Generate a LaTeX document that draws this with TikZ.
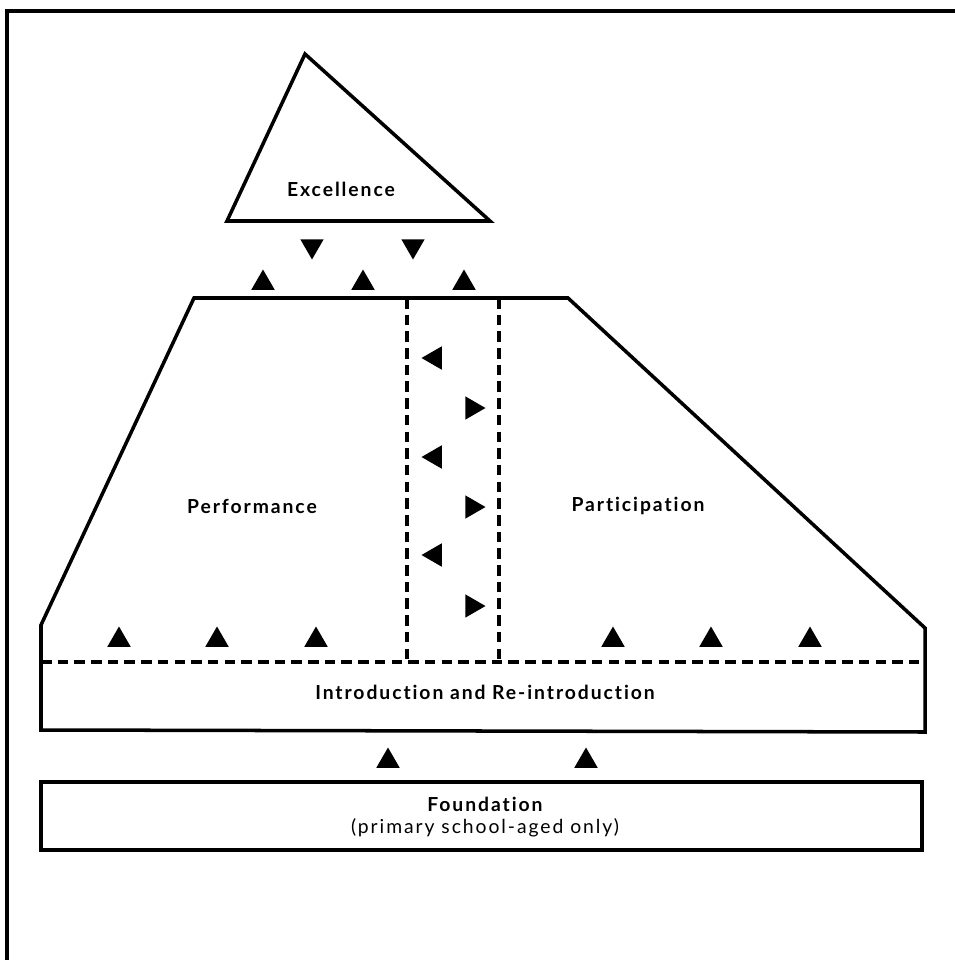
\documentclass[tikz,border=0pt]{standalone}
\usepackage{fontspec}
\setmainfont{Lato}
\newfontfamily\spacedfont[LetterSpace=10, Ligatures={NoCommon}]{Lato}
\usetikzlibrary{shapes.geometric}

\tikzset{
  outline/.style={line width=2pt, line join=miter},
  divider/.style={line width=2pt, dash pattern=on 6pt off 3.5pt},
  tri/.style={regular polygon, regular polygon sides=3, fill=black, draw=none, inner sep=0pt, minimum size=0.54cm},
  uptri/.style={tri},
  downtri/.style={tri, shape border rotate=180},
  lefttri/.style={tri, shape border rotate=90},
  righttri/.style={tri, shape border rotate=270},
  boxtext/.style={font=\spacedfont\bfseries\fontsize{11}{13}\selectfont, inner sep=0pt},
}

\begin{document}
\begin{tikzpicture}[x=0.02cm, y=-0.02cm]
  \useasboundingbox (0,0) rectangle (955,960);
  % frame
  \draw[outline] (7,960) -- (7,11) -- (955,11);

  % excellence
  \draw[outline] (305,54) -- (227,221) -- (490,221) -- cycle;
  \node[boxtext] (exc) at (341,189) {Excellence};
  \foreach \x [count=\i] in {312,413}
    \node[downtri] (down\i) at (\x,246) {};
  \foreach \x [count=\i] in {263,363,464}
    \node[uptri] (top\i) at (\x,283) {};

  % performance / participation block
  \draw[outline] (41,730) -- (41,625) -- (194,298) -- (568,298) -- (925,628) -- (925,732) -- cycle;
  \draw[divider] (407,298) -- (407,662);
  \draw[divider] (499,298) -- (499,662);
  \draw[divider] (41,662) -- (925,662);
  \foreach \y [count=\i] in {358,457,555}
    \node[lefttri] (left\i) at (435,\y) {};
  \foreach \y [count=\i] in {408,507,606}
    \node[righttri] (right\i) at (472,\y) {};
  \foreach \x [count=\i] in {119,217,316,613,711,810}
    \node[uptri] (base\i) at (\x,640) {};
  \node[boxtext] (perf) at (252,506) {Performance};
  \node[boxtext] (part) at (638,506) {Participation};
  \node[boxtext] (intro) at (485,692) {Introduction and Re-introduction};

  % foundation
  \foreach \x [count=\i] in {388,586}
    \node[uptri] (found\i) at (\x,761) {};
  \draw[outline] (41,782) rectangle (922,850);
  \node[boxtext, align=center] (found) at (485,817) {Foundation\\{\mdseries (primary school-aged only)}};
\end{tikzpicture}
\end{document}
